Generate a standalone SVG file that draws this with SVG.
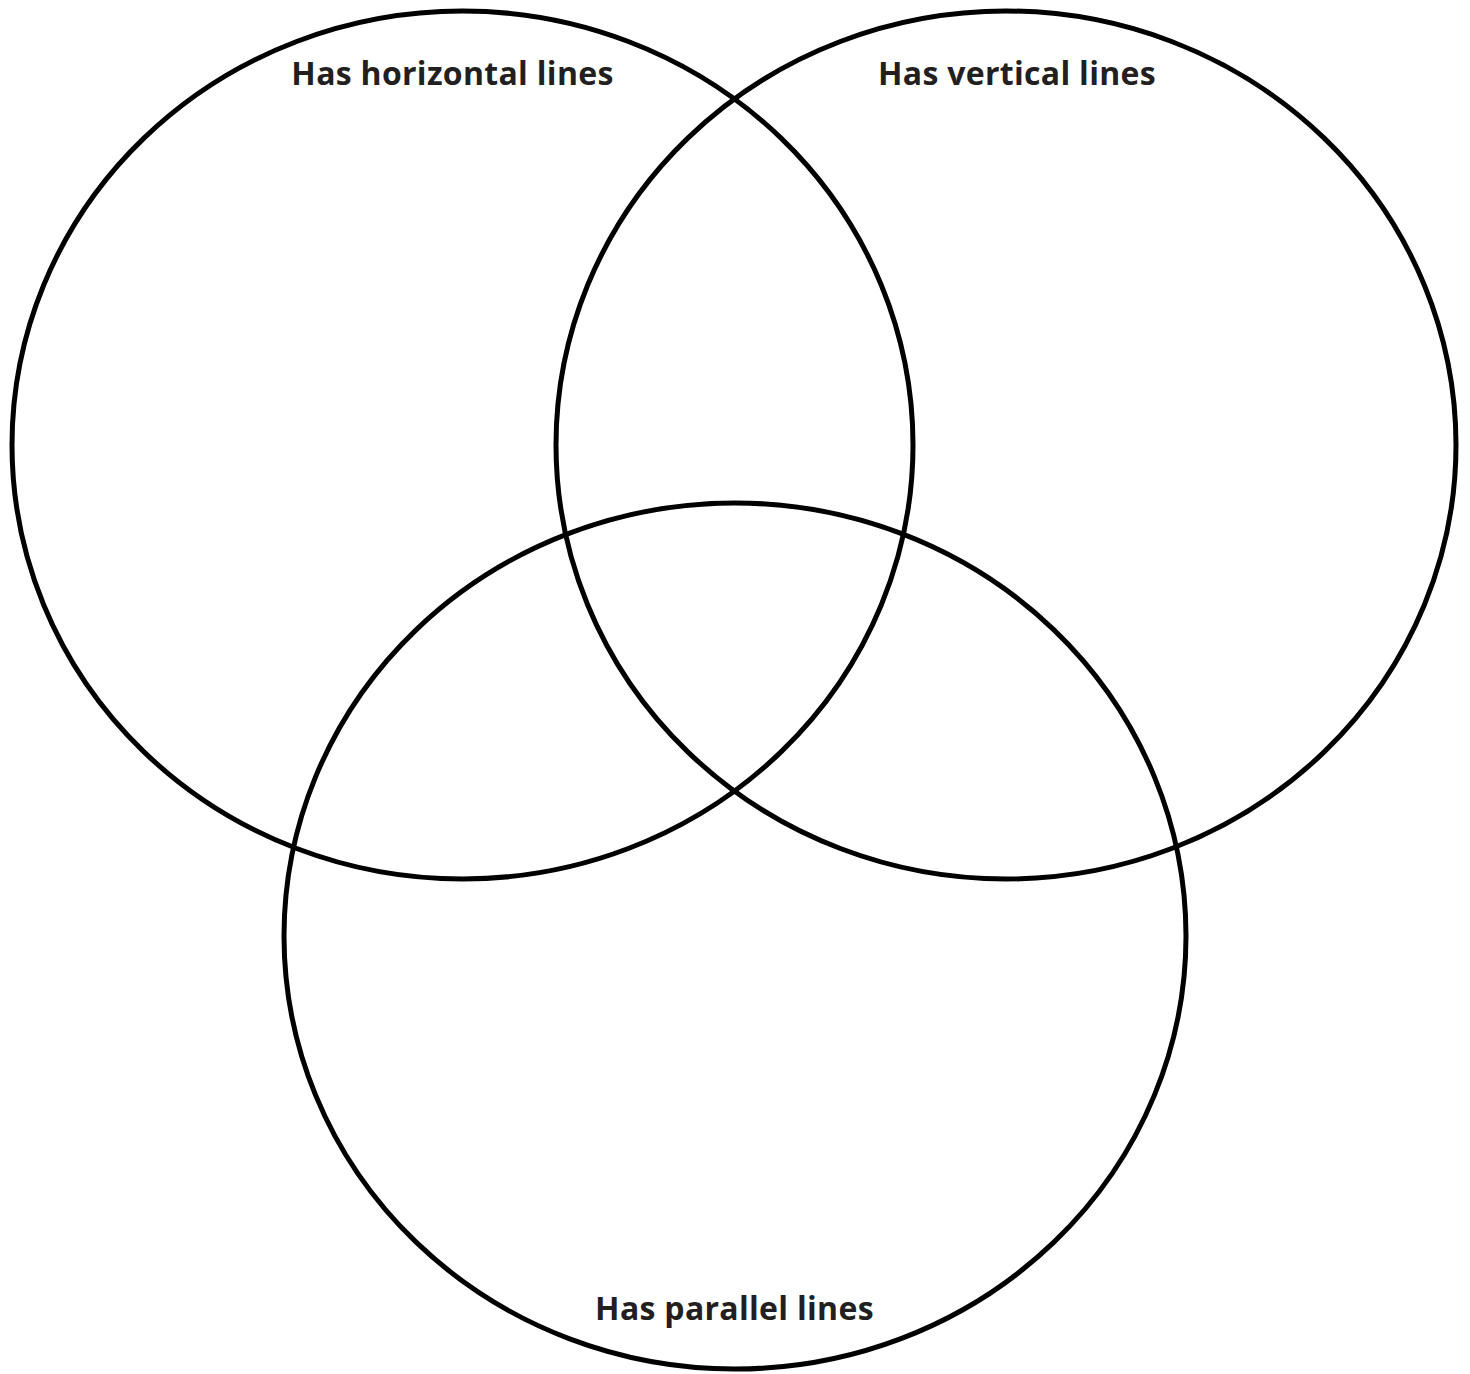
<svg xmlns="http://www.w3.org/2000/svg" width="1470" height="1374" viewBox="0 0 1470 1374">
<style>
.set{fill:none;stroke:#000;stroke-width:5}
.lbl{font-family:"Open Sans","Liberation Sans",sans-serif;font-weight:700;font-size:32px;letter-spacing:0.3px;fill:#231f20;text-anchor:middle}
</style>
<rect width="1470" height="1374" fill="#fff"/>
<g id="set-horizontal">
<ellipse class="set" cx="462.5" cy="445" rx="450.5" ry="434"/>
<text class="lbl" x="452.5" y="85">Has horizontal lines</text>
</g>
<g id="set-vertical">
<ellipse class="set" cx="1006" cy="445" rx="450" ry="434"/>
<text class="lbl" x="1017" y="85">Has vertical lines</text>
</g>
<g id="set-parallel">
<ellipse class="set" cx="735" cy="936" rx="451" ry="433"/>
<text class="lbl" x="734.5" y="1320">Has parallel lines</text>
</g>
<g id="connectors"/>
</svg>
